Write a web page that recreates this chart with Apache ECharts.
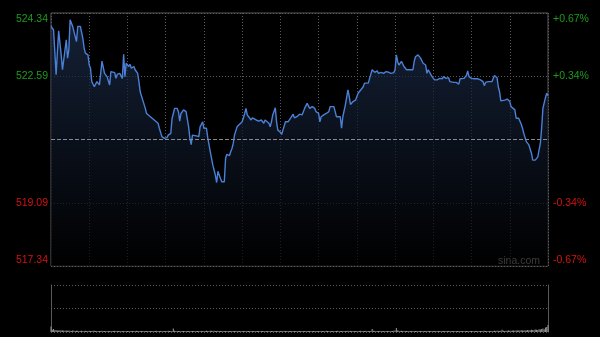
<!DOCTYPE html>
<html><head><meta charset="utf-8">
<script src="https://cdn.jsdelivr.net/npm/echarts@6/dist/echarts.min.js"></script>
<style>html,body{margin:0;padding:0;background:#000;}#c{width:600px;height:337px;}</style>
</head><body><div id="c"></div>
<script>
const prevClose = 520.84;
const priceTickLabels = ['517.34', '519.09', '', '522.59', '524.34'];
const pctTickLabels = ['-0.67%', '-0.34%', '', '+0.34%', '+0.67%'];
const watermark = 'sina.com';

const minutes = [
  0,2,3,4,6,8,9,12,13,14,
  15,17,18,20,21,23,25,26,27,29,
  30,31,32,34,35,36,38,39,40,42,
  43,44,46,47,48,50,51,52,54,55,
  56,57,58,59,61,62,63,65,66,68,
  69,70,72,73,74,75,76,78,79,81,
  82,84,85,87,88,89,91,92,94,95,
  96,97,99,100,101,102,104,105,106,108,
  109,110,111,112,114,115,116,117,119,120,
  121,122,123,125,126,127,129,130,131,133,
  134,135,136,137,138,140,141,142,143,144,
  146,147,148,150,151,152,153,154,155,157,
  158,159,161,162,163,165,166,167,168,169,
  171,172,173,174,176,177,178,180,181,182,
  184,185,186,188,189,190,191,193,194,195,
  197,198,199,201,202,203,205,206,207,208,
  210,211,212,214,215,216,218,219,220,222,
  223,224,225,227,228,229,230,231,233,234,
  235,237,238,239,241,242,243,245,246,247,
  249,250,252,253,254,256,257,258,259,261,
  262,263,265,266,267,269,270,271,272,273,
  275,276,277,279,280,281,282,284,285,286,
  288,289,290,292,293,294,295,296,297,299,
  300,301,303,304,305,307,308,309,310,312,
  313,314,316,317,318,320,321,322,324,325,
  326,327,328,330,331,332,333,335,336,337,
  339,340,341,342,343,344,346,347,348,349,
  350,351,352,353,354,356,357,358,360,361,
  362,364,365,366,367,369,370,371,373,374,
  375,377,378,379,380,382,383,384,385,386,
  388,389,390
];
const prices = [
  523.97,523.87,523.27,522.63,523.85,523.18,522.77,523.60,523.09,523.32,
  524.15,523.97,524.01,523.55,523.97,523.97,523.64,523.37,523.23,523.18,
  522.90,522.81,522.44,522.30,522.30,522.44,522.35,522.67,523.01,522.67,
  522.72,522.58,522.35,522.72,522.72,522.69,522.53,522.65,522.67,522.67,
  522.53,523.20,522.58,522.95,522.86,522.92,522.81,522.86,522.77,522.67,
  522.44,522.16,521.93,521.93,521.70,521.56,521.59,521.47,521.52,521.38,
  521.38,521.29,521.15,520.92,520.89,520.87,520.89,520.96,521.01,521.42,
  521.56,521.70,521.70,521.61,521.35,521.56,521.66,521.68,521.61,521.19,
  520.87,520.70,520.96,520.92,520.94,520.89,520.92,521.19,521.33,521.15,
  521.19,521.15,520.89,520.50,520.46,520.13,519.85,519.65,519.96,519.76,
  519.67,519.65,519.67,520.32,520.43,520.39,520.50,520.59,520.73,520.96,
  521.19,521.19,521.26,521.33,521.44,521.56,521.70,521.52,521.47,521.38,
  521.44,521.40,521.38,521.38,521.35,521.38,521.41,521.29,521.38,521.43,
  521.29,521.19,521.33,521.52,521.72,521.33,521.10,521.04,520.98,521.10,
  521.33,521.38,521.33,521.43,521.38,521.54,521.44,521.47,521.47,521.54,
  521.52,521.61,521.70,521.84,521.80,521.70,521.75,521.70,521.70,521.61,
  521.56,521.33,521.47,521.52,521.50,521.56,521.61,521.75,521.78,521.75,
  521.61,521.47,521.43,521.47,521.15,521.47,521.52,521.80,522.21,522.03,
  521.81,521.89,521.93,521.93,522.12,522.16,522.21,522.30,522.40,522.40,
  522.40,522.53,522.77,522.74,522.70,522.74,522.67,522.67,522.70,522.67,
  522.72,522.72,522.70,522.70,522.67,522.69,522.77,523.18,523.00,522.90,
  523.00,522.95,522.86,522.77,522.77,522.77,522.78,522.77,523.00,523.13,
  523.18,523.15,523.09,522.95,522.98,522.90,522.67,522.77,522.74,522.58,
  522.53,522.49,522.49,522.49,522.53,522.52,522.58,522.61,522.53,522.55,
  522.44,522.49,522.42,522.44,522.42,522.37,522.52,522.55,522.53,522.52,
  522.61,522.74,522.58,522.53,522.49,522.52,522.51,522.52,522.53,522.49,
  522.44,522.33,522.42,522.40,522.44,522.41,522.44,522.53,522.61,522.61,
  522.55,522.30,522.16,521.91,521.96,521.93,521.98,521.96,521.89,521.75,
  521.70,521.66,521.43,521.41,521.43,521.26,521.15,521.01,520.78,520.76,
  520.69,520.46,520.27,520.24,520.27,520.36,520.55,520.73,521.15,521.70,
  522.00,522.12,522.05
];
// volume per minute, minute 0..390 (hundreds of shares)
const volumes = [
  55,22,30,18,20,16,15,18,14,16,15,12,14,13,16,12,11,14,12,10,13,12,11,10,12,11,10,12,11,10,
  12,11,10,12,13,11,10,9,11,10,12,10,9,11,10,9,10,11,9,10,12,10,9,10,11,9,10,9,11,10,
  9,10,11,9,10,9,10,12,10,9,11,10,9,10,11,10,9,10,9,11,10,9,10,12,10,11,10,9,10,11,
  10,11,12,10,11,10,35,12,10,11,10,9,10,11,10,9,10,11,10,9,10,11,9,10,11,10,9,10,11,10,
  11,10,12,11,10,12,13,11,12,10,11,12,10,11,10,9,10,11,10,9,10,9,10,11,10,9,10,11,9,10,
  10,9,10,11,10,9,10,9,11,10,9,10,9,10,11,9,10,9,10,9,11,10,9,10,9,10,11,10,9,10,
  10,9,10,11,10,9,10,9,10,11,10,9,10,9,10,11,10,9,10,9,10,11,10,9,10,9,11,10,9,10,
  9,10,11,10,9,10,12,10,9,10,11,10,9,10,11,12,10,11,10,9,10,11,10,12,11,10,9,10,11,10,
  10,11,10,12,11,10,11,12,10,11,10,11,30,12,11,10,11,10,9,10,11,10,9,10,11,10,9,10,11,12,
  14,40,15,12,11,12,10,11,10,11,10,9,10,11,10,9,10,11,10,9,10,11,10,9,10,11,10,9,10,11,
  10,9,10,11,10,9,10,11,10,9,10,11,10,9,10,11,10,9,10,11,10,9,10,11,10,9,10,11,10,9,
  10,11,10,9,10,11,10,9,10,11,12,10,11,10,9,10,11,10,12,11,12,13,11,12,22,12,11,13,12,14,
  13,12,14,15,13,14,16,14,15,17,15,16,18,16,20,18,17,22,20,18,25,22,20,28,25,30,35,28,45,50,
  70
];

const FONT = '"Liberation Sans", Arial, sans-serif';
const GREEN = '#1c9c1c';
const RED = '#d41212';
const GRIDC = '#5a5a5a';

function st(color, pad) {
  const s = { color: color, fontSize: 10.5, fontFamily: FONT };
  if (pad) s.padding = pad;
  return s;
}
const rich = {
  gtop: st(GREEN, [13, 0, 0, 0]), gbot: st(GREEN, [0, 0, 11, 0]), gmid: st(GREEN),
  rtop: st(RED, [13, 0, 0, 0]), rbot: st(RED, [0, 0, 11, 0]), rmid: st(RED)
};
function fmtColored(list) {
  return function (v, i) {
    const t = list[i];
    if (!t) return '';
    const c = i > 2 ? 'g' : 'r';
    const pos = i === list.length - 1 ? 'top' : (i === 0 ? 'bot' : 'mid');
    return '{' + c + pos + '|' + t + '}';
  };
}

const chart = echarts.init(document.getElementById('c'), null, { renderer: 'canvas' });
chart.setOption({
  animation: false,
  backgroundColor: '#000',
  grid: [
    { left: 51, right: 52, top: 13, height: 253, show: true, borderColor: GRIDC, borderWidth: 1, backgroundColor: 'transparent' },
    { left: 51, right: 52, top: 285, height: 47, show: false }
  ],
  xAxis: [
    { type: 'value', gridIndex: 0, min: 0, max: 390, interval: 30,
      axisLine: { show: false }, axisTick: { show: false }, axisLabel: { show: false },
      splitLine: { show: true, lineStyle: { color: GRIDC, type: [1, 2], width: 1 } } },
    { type: 'value', gridIndex: 1, min: 0, max: 390, interval: 30,
      axisLine: { show: false }, axisTick: { show: false }, axisLabel: { show: false },
      splitLine: { show: false } }
  ],
  yAxis: [
    { type: 'value', gridIndex: 0, min: 517.34, max: 524.34, show: false, splitLine: { show: false } },
    { type: 'value', gridIndex: 0, position: 'right', min: -0.672, max: 0.672, interval: 0.336,
      axisLine: { show: false }, axisTick: { show: false },
      axisLabel: { margin: 5, formatter: fmtColored(pctTickLabels), rich: rich },
      splitLine: { show: true, lineStyle: { color: GRIDC, type: [1, 2], width: 1 } } },
    { type: 'value', gridIndex: 0, position: 'left', min: -0.672, max: 0.672, interval: 0.336,
      axisLine: { show: false }, axisTick: { show: false },
      axisLabel: { margin: 3, formatter: fmtColored(priceTickLabels), rich: rich },
      splitLine: { show: false } },
    { type: 'value', gridIndex: 1, position: 'left', min: 0, max: 470, interval: 235,
      axisLine: { show: true, lineStyle: { color: GRIDC, width: 1 } }, axisTick: { show: false }, axisLabel: { show: false },
      splitLine: { show: true, lineStyle: { color: GRIDC, type: [1, 2], width: 1 } } },
    { type: 'value', gridIndex: 1, position: 'right', min: 0, max: 470, interval: 235,
      axisLine: { show: true, lineStyle: { color: GRIDC, width: 1 } }, axisTick: { show: false }, axisLabel: { show: false },
      splitLine: { show: false } }
  ],
  graphic: [
    { type: 'text', left: 498, top: 256, silent: true,
      style: { text: watermark, fill: '#bdbdbd', font: '10.5px ' + FONT } }
  ],
  series: [
    { type: 'line', xAxisIndex: 0, yAxisIndex: 0,
      data: minutes.map((m, i) => [m, prices[i]]),
      symbol: 'none', smooth: false,
      lineStyle: { color: '#4a80d6', width: 1.4 },
      areaStyle: { origin: 'start', color: new echarts.graphic.LinearGradient(0, 0, 0, 1, [
        { offset: 0, color: '#1d2e4d' }, { offset: 1, color: '#000000' }]) },
      markLine: { silent: true, symbol: 'none', label: { show: false }, animation: false,
        lineStyle: { color: '#8a8a8a', type: [4, 2], width: 1 },
        data: [{ yAxis: prevClose }] }
    },
    { type: 'bar', xAxisIndex: 1, yAxisIndex: 3,
      data: volumes.map((v, i) => [i, v]),
      barWidth: 1, itemStyle: { color: '#9a9a9a' } }
  ]
});
</script></body></html>
